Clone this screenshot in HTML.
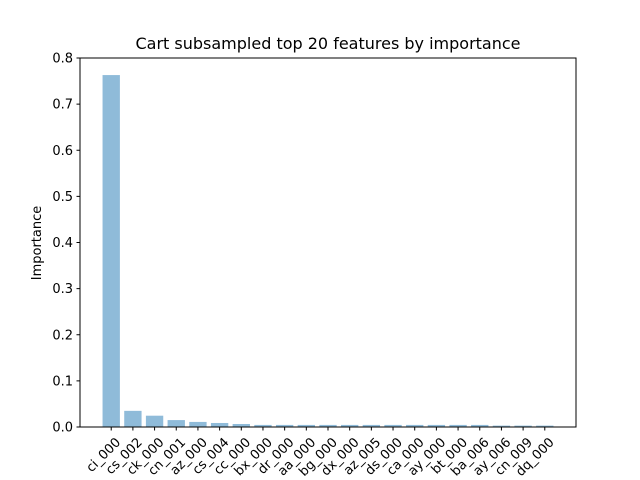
<!DOCTYPE html>
<html><head><meta charset="utf-8"><style>
body{margin:0;background:#fff;}
svg{display:block;font-family:"DejaVu Sans","Liberation Sans",sans-serif;}
</style></head><body>
<svg id="chart" width="640" height="480">
<rect width="640" height="480" fill="#fff"/>
<text x="328" y="49" font-size="16" text-anchor="middle">Cart subsampled top 20 features by importance</text>
<text transform="translate(41,243) rotate(-90)" font-size="13" text-anchor="middle">Importance</text>
<g id="bars"></g><g id="yaxis"></g><g id="xaxis"></g>
<rect x="80" y="58" width="496" height="369" fill="none" stroke="#000" stroke-width="1"/>
</svg>
<script>
const categories=["ci_000","cs_002","ck_000","cn_001","az_000","cs_004","cc_000","bx_000","dr_000","aa_000","bg_000","dx_000","az_005","ds_000","ca_000","ay_000","bt_000","ba_006","ay_006","cn_009","dq_000"];
const values=[0.763,0.035,0.0245,0.015,0.011,0.0087,0.0065,0.0045,0.0045,0.0045,0.0045,0.0045,0.0045,0.0045,0.0045,0.0045,0.0045,0.0045,0.003,0.003,0.003];
const yTicks=[0,0.1,0.2,0.3,0.4,0.5,0.6,0.7,0.8];
const yTickLabels=["0.0","0.1","0.2","0.3","0.4","0.5","0.6","0.7","0.8"];
const L=80,R=576,T=58,B=427,ymax=0.8;
const n=categories.length,x0=-0.4-0.05*(n-0.2),x1=n-1+0.4+0.05*(n-0.2);
const xs=v=>L+(v-x0)/(x1-x0)*(R-L);
const ys=v=>B-v/ymax*(B-T);
const NS="http://www.w3.org/2000/svg";
function mk(t,a,p){const e=document.createElementNS(NS,t);for(const k in a)e.setAttribute(k,a[k]);p.appendChild(e);return e;}
const gb=document.getElementById('bars'),gy=document.getElementById('yaxis'),gx=document.getElementById('xaxis');
values.forEach((v,i)=>{
 const r=mk('rect',{x:xs(i-0.4),y:ys(v),width:xs(0.4)-xs(-0.4),height:B-ys(v),fill:'#1f77b4','fill-opacity':0.5},gb);
 
 
});
yTicks.forEach((t,i)=>{
 const y=ys(t);
 const l=mk('line',{x1:L-3.5,x2:L,y1:y,y2:y,stroke:'#000'},gy);
 
 
 const tx=mk('text',{x:L-7,y:y+4.5,'font-size':13,'text-anchor':'end'},gy);
 tx.textContent=yTickLabels[i];
 
 
});
categories.forEach((c,i)=>{
 const x=xs(i);
 const l=mk('line',{x1:x,x2:x,y1:B,y2:B+3.5,stroke:'#000'},gx);
 
 
 const tx=mk('text',{transform:`translate(${x+10},${B+16}) rotate(-45)`,'font-size':13,'text-anchor':'end'},gx);
 tx.textContent=c;
 
 
});
</script>
</body></html>
